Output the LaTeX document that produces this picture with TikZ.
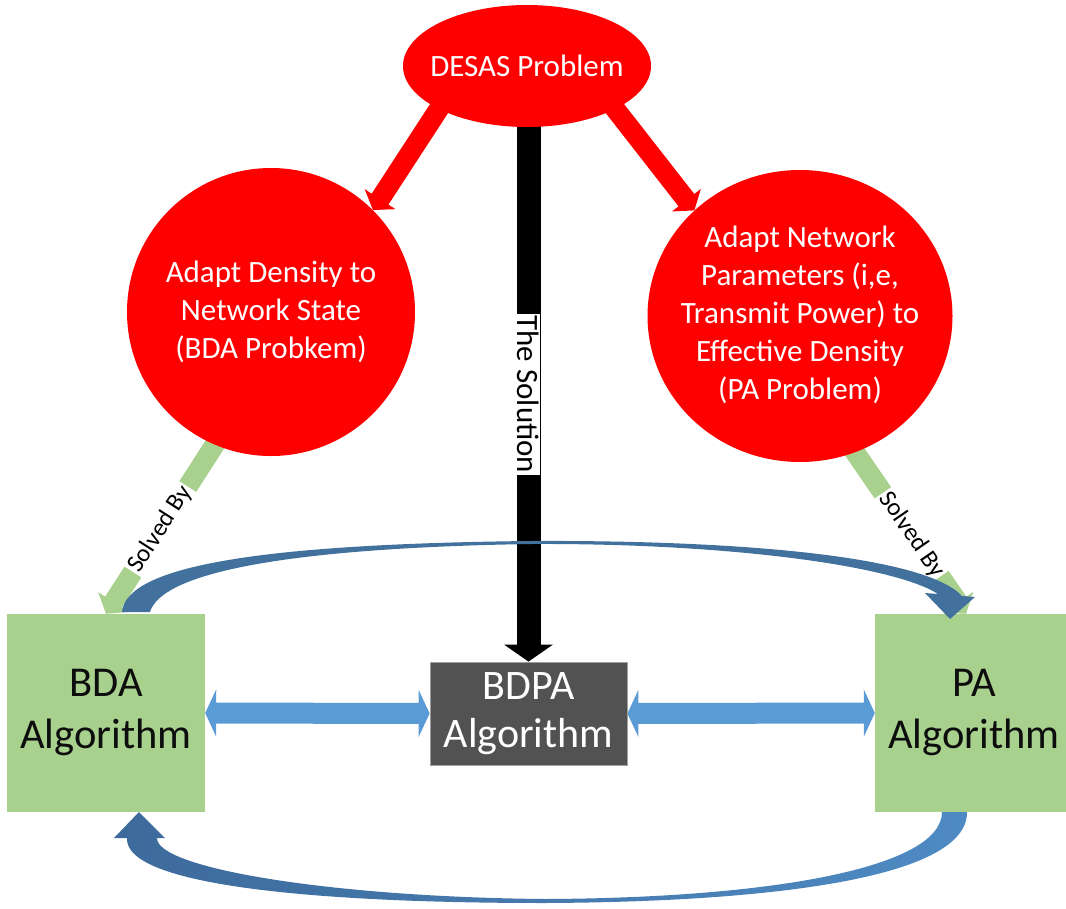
\documentclass[tikz,border=0pt]{standalone}
\usepackage{fontspec}
\setmainfont{Carlito}
\usetikzlibrary{arrows.meta,shapes.geometric}
\pgfdeclarelayer{background}
\pgfsetlayers{background,main}

\definecolor{shapered}{HTML}{FF0000}
\definecolor{algogreen}{HTML}{A9D18E}
\definecolor{linkblue}{HTML}{5B9BD5}
\definecolor{loopblue}{HTML}{41719C}
\definecolor{loopdark}{HTML}{3D6A9B}
\definecolor{looplight}{HTML}{4E8AC3}
\definecolor{bdpagray}{HTML}{525252}

\begin{document}
\begin{tikzpicture}[x=1pt,y=-1pt,
  problem/.style={fill=shapered, inner sep=0pt},
  ptext/.style={text=white, align=center, inner sep=0pt,
    font=\fontsize{31}{38}\selectfont},
  algo/.style={rectangle, fill=algogreen, minimum width=198pt, minimum height=198pt,
    align=center, inner sep=0pt, text=black!95, font=\fontsize{42.5}{52}\selectfont},
  redlink/.style={draw=shapered, line width=20pt, shorten <=-12pt,
    -{Triangle[width=36pt,length=13pt]}},
  greenlink/.style={draw=algogreen, line width=20pt, shorten <=-12pt,
    -{Triangle[width=36pt,length=14pt]}},
  solution/.style={draw=black, line width=24pt, shorten <=-2pt,
    -{Triangle[width=48pt,length=17pt]}},
  twoway/.style={draw=linkblue, line width=21pt,
    {Triangle[width=47pt,length=11pt]}-{Triangle[width=47pt,length=11pt]}},
  tag/.style={fill=white, text=black, inner xsep=2pt, inner ysep=1pt}
]
\useasboundingbox (0,0) rectangle (1066,908);
\clip (0,0) rectangle (1066,908);

% problem shapes
\node[problem, ellipse, minimum width=248pt, minimum height=122pt] (desas) at (527,66) {};
\node[ptext] (desas-text) at (desas) {DESAS Problem};
\node[problem, circle, minimum size=288pt] (bdaprob) at (271,312) {};
\node[ptext] (bdaprob-text) at ([yshift=0pt]bdaprob.center)
  {Adapt Density to\\Network State\\(BDA Probkem)};
\node[problem, ellipse, minimum width=305pt, minimum height=292pt] (paprob) at (800,316) {};
\node[ptext] (paprob-text) at ([yshift=1pt]paprob.center)
  {Adapt Network\\Parameters (i,e,\\Transmit Power) to\\Effective Density\\(PA Problem)};

% algorithms
\node[algo] (bda) at (106,713) {BDA\\Algorithm};
\node[algo] (pa) at (974,713) {PA\\Algorithm};
\node[rectangle, fill=bdpagray, draw=gray!75, line width=0.8pt, minimum width=197pt,
  minimum height=103pt, inner sep=0pt, align=center, text=white,
  font=\fontsize{42}{48}\selectfont] (bdpa) at (528.5,713.5) {BDPA\\Algorithm};

\begin{pgfonlayer}{background}
  % decomposition of the problem
  \draw[redlink] (desas.206) -- (bdaprob.45);
  \draw[redlink] (desas.334) -- (paprob.135);
  % solution path
  \draw[solution] (bdpa.north |- desas.south) -- (bdpa.north)
    node[tag, pos=0.5, rotate=-90, font=\fontsize{31}{36}\selectfont] (sol-tag) {The Solution};
  \draw[greenlink] (bdaprob.247) -- (bda.north)
    node[tag, pos=0.5, sloped, font=\fontsize{25}{30}\selectfont] (bda-tag) {Solved By};
  \draw[greenlink] (paprob.292) -- ([xshift=-8pt]pa.north)
    node[tag, pos=0.51, sloped, font=\fontsize{25}{30}\selectfont] (pa-tag) {Solved By};
  % exchanges with the combined algorithm
  \draw[twoway] (bda.east) -- (bdpa.west);
  \draw[twoway] (bdpa.east) -- (pa.west);
\end{pgfonlayer}

% loop from BDA over the top to PA
\fill[loopblue] (122,612) .. controls (126,566) and (260,544) .. (530,541)
  .. controls (740,540) and (925,556) .. (962,596)
  -- (975,597) -- (950,619) -- (925,593) -- (938,594)
  .. controls (895,566) and (730,543) .. (530,544)
  .. controls (290,548) and (162,572) .. (150,612) -- cycle;

% loop from PA under the bottom back to BDA
\shade[left color=loopdark, right color=looplight]
  (967,812) .. controls (968,880) and (760,902) .. (545,903)
  .. controls (320,903) and (124,886) .. (127,838)
  -- (114,838) -- (139,812) -- (165,838) -- (157,838)
  .. controls (156,868) and (330,897) .. (545,899)
  .. controls (770,898) and (942,868) .. (942,812) -- cycle;
\end{tikzpicture}
\end{document}
